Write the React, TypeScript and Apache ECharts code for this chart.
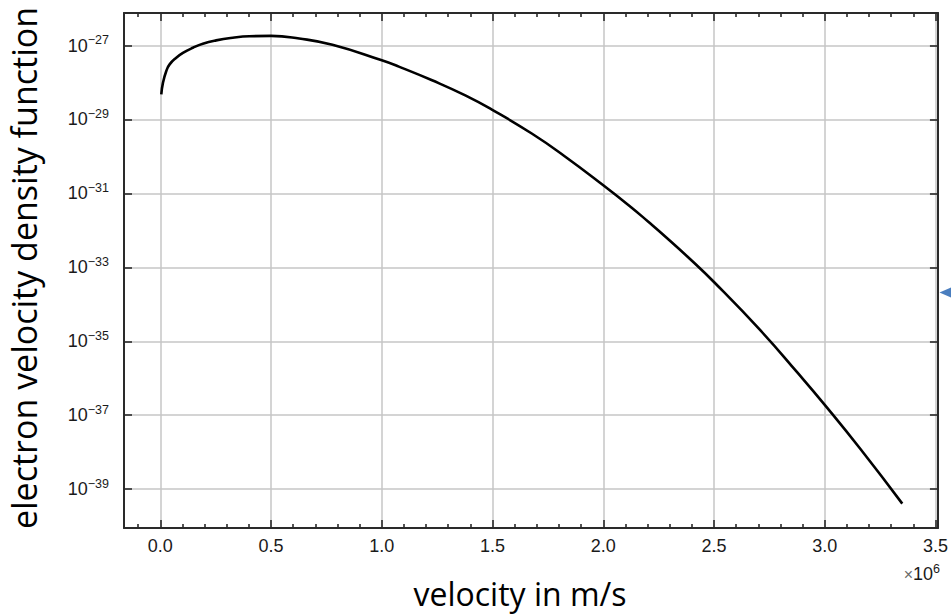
import React, { useEffect, useRef } from 'react';
import * as echarts from 'echarts';

// velocity in m/s
const velocity = [
  4400, 11800, 27000, 42000, 72000, 102000, 147000, 192000, 252000, 327000,
  402000, 500000, 627000, 777000, 1000000, 1077000, 1227000, 1377000, 1499000,
  1677000, 1827000, 2000000, 2127000, 2202000, 2277000, 2382000, 2502000,
  2712000, 2877000, 3000000, 3162000, 3350000,
];
// log10 of the electron velocity density function
const densityExponent = [
  -28.32, -28.01, -27.69, -27.51, -27.33, -27.2, -27.06, -26.95, -26.86, -26.79,
  -26.75, -26.74, -26.81, -26.98, -27.4, -27.57, -27.94, -28.35, -28.74,
  -29.38, -30.0, -30.78, -31.38, -31.76, -32.15, -32.72, -33.41, -34.72,
  -35.85, -36.72, -37.92, -39.39,
];
const density = densityExponent.map((e) => Math.pow(10, e));

const xMajorTicks = [0, 500000, 1000000, 1500000, 2000000, 2500000, 3000000, 3500000];
const xMinorTicks = [
  -100000, 100000, 200000, 300000, 400000, 600000, 700000, 800000, 900000,
  1100000, 1200000, 1300000, 1400000, 1600000, 1700000, 1800000, 1900000,
  2100000, 2200000, 2300000, 2400000, 2600000, 2700000, 2800000, 2900000,
  3100000, 3200000, 3300000, 3400000,
];
const yExponents = [-39, -37, -35, -33, -31, -29, -27];

const xTitle = 'velocity in m/s';
const yTitle = 'electron velocity density function';

const AXIS_COLOR = '#2a2a2a';
const GRID_COLOR = '#c6c6c6';
const LABEL_COLOR = '#1a1a1a';
const LABEL_FONT = "'Liberation Sans', Arial, sans-serif";
const TITLE_FONT = "'Open Sans', 'Noto Sans', sans-serif";

export default function App() {
  const ref = useRef<HTMLDivElement>(null);

  useEffect(() => {
    if (!ref.current) return;
    const chart = echarts.init(ref.current, null, { renderer: 'svg' });

    const xMin = -164000;
    const xMax = 3511000;
    const yMin = -40.05;
    const yMax = -26.12;

    const tickStyle = { color: AXIS_COLOR, width: 1.6 };
    const lineStyle = { color: AXIS_COLOR, width: 2 };

    const minorX = (position: string) => ({
      type: 'value',
      position,
      min: xMin,
      max: xMax,
      axisLine: { show: false },
      axisLabel: { show: false },
      splitLine: { show: false },
      axisTick: { show: true, inside: true, length: 4, customValues: xMinorTicks, lineStyle: tickStyle },
    });

    const option: any = {
      animation: false,
      backgroundColor: '#ffffff',
      grid: { left: 124, right: 10, top: 13, bottom: 87, containLabel: false },
      xAxis: [
        {
          type: 'value',
          position: 'bottom',
          min: xMin,
          max: xMax,
          axisLine: { show: true, onZero: false, lineStyle },
          axisTick: { show: true, inside: true, length: 8, customValues: xMajorTicks, lineStyle: tickStyle },
          axisLabel: {
            show: true,
            customValues: xMajorTicks,
            margin: 9,
            fontSize: 18,
            fontFamily: LABEL_FONT,
            color: LABEL_COLOR,
            formatter: (v: number) => (v / 1e6).toFixed(1),
          },
          splitLine: { show: true, lineStyle: { color: GRID_COLOR, width: 1.5 } },
        },
        minorX('bottom'),
        {
          type: 'value',
          position: 'top',
          min: xMin,
          max: xMax,
          axisLine: { show: true, onZero: false, lineStyle },
          axisTick: { show: true, inside: true, length: 8, customValues: xMajorTicks, lineStyle: tickStyle },
          axisLabel: { show: false },
          splitLine: { show: false },
        },
        minorX('top'),
      ],
      yAxis: [
        {
          type: 'value',
          position: 'left',
          min: yMin,
          max: yMax,
          axisLine: { show: true, onZero: false, lineStyle },
          axisTick: { show: true, inside: true, length: 8, customValues: yExponents, lineStyle: tickStyle },
          axisLabel: {
            show: true,
            customValues: yExponents,
            margin: 15,
            formatter: (v: number) => `{b|10}{s|\u2212${Math.abs(Math.round(v))}}`,
            rich: {
              b: { fontSize: 18, fontFamily: LABEL_FONT, color: LABEL_COLOR, lineHeight: 24 },
              s: { fontSize: 12.5, fontFamily: LABEL_FONT, color: LABEL_COLOR, lineHeight: 12, verticalAlign: 'top' },
            },
          },
          splitLine: { show: true, lineStyle: { color: GRID_COLOR, width: 1.5 } },
        },
        {
          type: 'value',
          position: 'right',
          min: yMin,
          max: yMax,
          axisLine: { show: true, onZero: false, lineStyle },
          axisTick: { show: true, inside: true, length: 8, customValues: yExponents, lineStyle: tickStyle },
          axisLabel: { show: false },
          splitLine: { show: false },
        },
      ],
      series: [
        {
          type: 'line',
          xAxisIndex: 0,
          yAxisIndex: 0,
          data: velocity.map((v, i) => [v, Math.log10(density[i])]),
          showSymbol: false,
          symbol: 'none',
          smooth: 0.5,
          lineStyle: { color: '#000000', width: 2.6 },
          silent: true,
        },
      ],
      graphic: [
        {
          type: 'text',
          x: 24,
          y: 268,
          rotation: Math.PI / 2,
          style: {
            text: yTitle,
            fontSize: 34,
            fontFamily: TITLE_FONT,
            fill: '#000000',
            align: 'center',
            verticalAlign: 'middle',
          },
        },
        {
          type: 'text',
          x: 520,
          y: 593,
          style: {
            text: xTitle,
            fontSize: 32,
            fontFamily: TITLE_FONT,
            fill: '#000000',
            align: 'center',
            verticalAlign: 'middle',
          },
        },
        {
          type: 'text',
          x: 940,
          y: 574,
          style: {
            text: '{x|\u00d7}{b|10}{s|6}',
            align: 'right',
            verticalAlign: 'middle',
            rich: {
              x: { fontSize: 16, fontFamily: LABEL_FONT, fill: '#6a6a6a', lineHeight: 24 },
              b: { fontSize: 18, fontFamily: LABEL_FONT, fill: LABEL_COLOR, lineHeight: 24 },
              s: { fontSize: 12.5, fontFamily: LABEL_FONT, fill: LABEL_COLOR, lineHeight: 12, verticalAlign: 'top' },
            },
          },
        },
        {
          type: 'polygon',
          shape: { points: [[939.5, 292.5], [953, 286.5], [953, 298.5]] },
          style: { fill: '#4a7ebf' },
        },
      ],
    };

    chart.setOption(option);
    return () => chart.dispose();
  }, []);

  return (
    <div
      ref={ref}
      style={{ position: 'fixed', left: 0, top: 0, width: 951, height: 615, background: '#fff' }}
    />
  );
}
